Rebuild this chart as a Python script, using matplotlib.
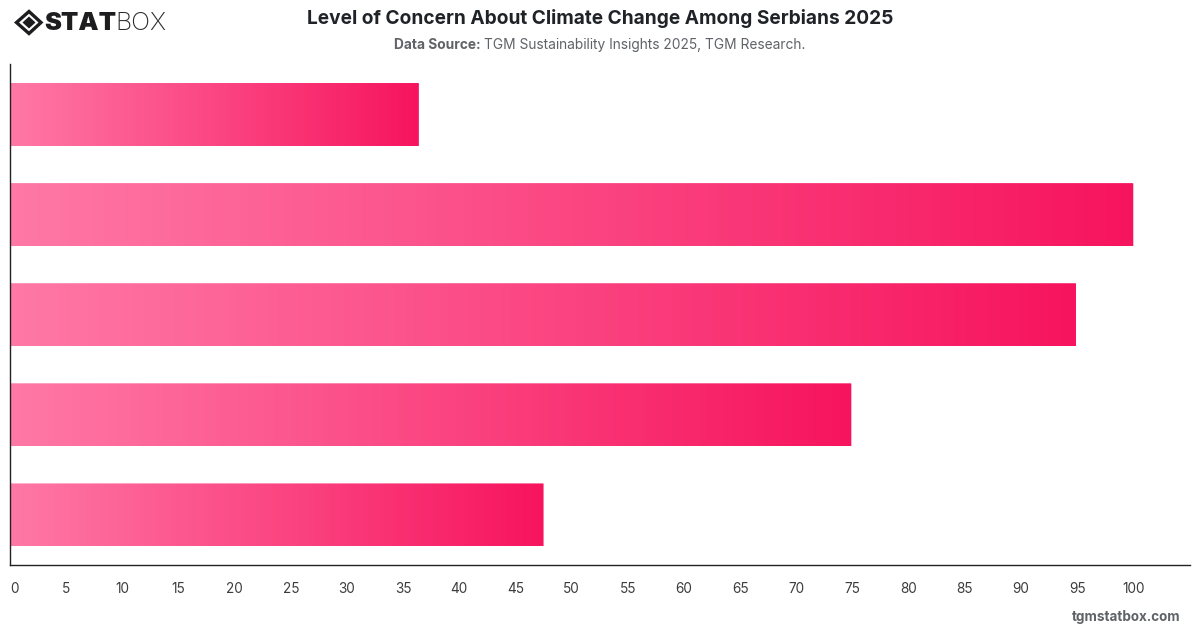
import numpy as np
import matplotlib
matplotlib.use("Agg")
import matplotlib.pyplot as plt
from matplotlib.colors import LinearSegmentedColormap
from matplotlib.patches import FancyBboxPatch, Polygon

# Share of respondents per concern level, top bar first (levels are unlabelled on the chart)
levels = ["Level 1", "Level 2", "Level 3", "Level 4", "Level 5"]
shares = [36.4, 100, 94.9, 74.9, 47.5]
ticks = list(range(0, 101, 5))

TITLE = "Level of Concern About Climate Change Among Serbians 2025"
W, H = 1200, 628
plt.rcParams["font.family"] = ["Inter", "DejaVu Sans"]

fig = plt.figure(figsize=(W / 100, H / 100), dpi=100, facecolor="white")
L, R, T, B = 10, 1190, 64.5, 565
XMAX = 105.05
ax = fig.add_axes([L / W, 1 - B / H, (R - L) / W, (B - T) / H])

cmap = LinearSegmentedColormap.from_list("pink", ["#FF78A6", "#F7145F"])
grad = np.linspace(0, 1, 256).reshape(1, -1)
bar_h = 0.63
for i, v in enumerate(shares):
    im = ax.imshow(grad, extent=(0, v, i + bar_h / 2, i - bar_h / 2), cmap=cmap,
                   aspect="auto", interpolation="bilinear", zorder=2)
    # Slightly rounded outer edge, square at the axis
    clip = FancyBboxPatch((-1, i - bar_h / 2), v + 1, bar_h,
                          boxstyle="round,pad=0,rounding_size=0.15",
                          mutation_aspect=0.015, transform=ax.transData,
                          fc="none", ec="none")
    ax.add_patch(clip)
    im.set_clip_path(clip)
ax.set_xlim(0, XMAX)
ax.set_ylim(len(levels) - 0.5, -0.5)

for s in ("top", "right"):
    ax.spines[s].set_visible(False)
for s in ("left", "bottom"):
    ax.spines[s].set_color("#222222")
    ax.spines[s].set_linewidth(1)
ax.set_yticks([])
ax.set_xticks(ticks)
ax.set_xticklabels([str(t) for t in ticks], fontsize=9.8, color="#3c3c3c")
ax.tick_params(axis="x", length=0, pad=12)
ax.get_xticklabels()[0].set_ha("left")

# Header text
fig.text(600 / W, 1 - 18 / H, TITLE, ha="center", va="center",
         fontsize=13.75, fontweight="bold", color="#1f2328")
fig.text(484 / W, 1 - 45 / H, "TGM Sustainability Insights 2025, TGM Research.",
         ha="left", va="center", fontsize=9.9, color="#5f6368")
fig.text(481 / W, 1 - 45 / H, "Data Source:", ha="right", va="center",
         fontsize=9.9, fontweight="bold", color="#5f6368")
fig.text(1180 / W, 1 - 617.5 / H, "tgmstatbox.com", ha="right", va="center",
         fontsize=9.7, fontweight="bold", color="#5f6368")

# Brand mark in pixel coordinates
logo = fig.add_axes([0, 0, 1, 1], facecolor="none")
logo.set_xlim(0, W)
logo.set_ylim(H, 0)
logo.axis("off")
ink = "#1d1d1f"
logo.add_patch(Polygon([(29, 11.5), (41, 22.5), (29, 33.5), (16.5, 22.5)], closed=True,
                       fc="none", ec=ink, lw=2.4))
logo.add_patch(Polygon([(29, 16.5), (35.5, 22.5), (29, 28.5), (22.5, 22.5)], closed=True,
                       fc=ink, ec="none"))
logo.text(44.5, 23.5, "STAT", ha="left", va="center", fontsize=18.3, fontweight="black",
          family=["Inter", "DejaVu Sans"], color=ink)
logo.text(115.5, 23.5, "BOX", ha="left", va="center", fontsize=18, fontweight="light",
          family=["Inter", "DejaVu Sans"], color="#2b2b2d")

fig.savefig("out.png", dpi=100, facecolor="white")
